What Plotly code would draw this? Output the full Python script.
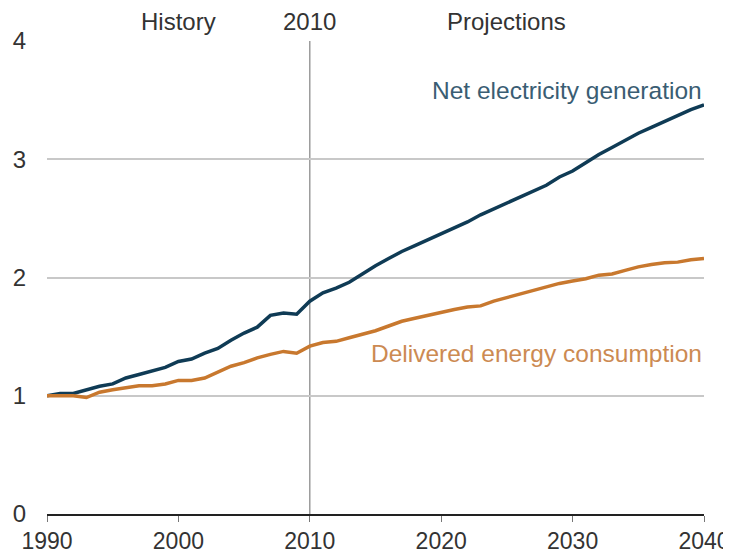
import plotly.graph_objects as go

######################### DATA #########################
years = list(range(1990, 2041))

net_generation = [
    1.00, 1.02, 1.02, 1.05, 1.08, 1.10, 1.15, 1.18, 1.21, 1.24,   # 1990-1999
    1.29, 1.31, 1.36, 1.40, 1.47, 1.53, 1.58, 1.68, 1.70, 1.69,   # 2000-2009
    1.80, 1.87, 1.91, 1.96, 2.03, 2.10, 2.16, 2.22, 2.27, 2.32,   # 2010-2019
    2.37, 2.42, 2.47, 2.53, 2.58, 2.63, 2.68, 2.73, 2.78, 2.85,   # 2020-2029
    2.90, 2.97, 3.04, 3.10, 3.16, 3.22, 3.27, 3.32, 3.37, 3.42,   # 2030-2039
    3.46,                                                         # 2040
]

delivered_energy = [
    1.00, 1.00, 1.00, 0.985, 1.03, 1.05, 1.07, 1.085, 1.085, 1.10,
    1.13, 1.13, 1.15, 1.20, 1.25, 1.28, 1.32, 1.35, 1.375, 1.36,
    1.42, 1.45, 1.46, 1.49, 1.52, 1.55, 1.59, 1.63, 1.655, 1.68,
    1.71, 1.73, 1.75, 1.76, 1.80, 1.83, 1.86, 1.89, 1.92, 1.95,
    1.97, 1.99, 2.02, 2.03, 2.06, 2.09, 2.11, 2.125, 2.13, 2.15,
    2.16,
]

split_year = 2010
x_ticks = [1990, 2000, 2010, 2020, 2030, 2040]
y_ticks = [0, 1, 2, 3, 4]

FONT = "Liberation Sans, Arial, sans-serif"
BLUE = "#0f3b55"
ORANGE = "#c8782e"

######################### FIGURE #########################
fig = go.Figure()
fig.add_trace(go.Scatter(x=years, y=net_generation, mode="lines",
                         line=dict(color=BLUE, width=3.5), name="Net electricity generation"))
fig.add_trace(go.Scatter(x=years, y=delivered_energy, mode="lines",
                         line=dict(color=ORANGE, width=3.5), name="Delivered energy consumption"))

# history / projections divider
fig.add_shape(type="line", x0=split_year, x1=split_year, y0=0, y1=4,
              xref="x", yref="y", line=dict(color="#8c8c8c", width=1.3), layer="below")

# page body adds an 8px margin, so the figure is 8px smaller each way to fit the window
fig.update_layout(
    width=723, height=546,
    margin=dict(l=39, r=27, t=33, b=40),
    paper_bgcolor="white", plot_bgcolor="white",
    showlegend=False,
    font=dict(family=FONT, size=24, color="#333333"),
    xaxis=dict(range=[1990, 2040], tickvals=x_ticks, showgrid=False, zeroline=False,
               automargin=False,
               showline=True, linecolor="#222222", linewidth=1.5,
               ticks="outside", ticklen=6, tickcolor="#777777", tickwidth=1.3,
               tickfont=dict(size=23, color="#333333")),
    yaxis=dict(range=[0, 4], tickvals=y_ticks, showgrid=True, gridcolor="#c8c8c8",
               gridwidth=1.5, zeroline=False, showline=False, ticks="",
               automargin=False,
               ticklabelstandoff=20, tickfont=dict(size=24, color="#333333")),
    annotations=[
        dict(text="History", x=2000, y=1, xref="x", yref="paper", yanchor="bottom",
             showarrow=False, yshift=4, font=dict(size=24, color="#333333")),
        dict(text="2010", x=split_year, y=1, xref="x", yref="paper", yanchor="bottom",
             showarrow=False, yshift=4, font=dict(size=24, color="#333333")),
        dict(text="Projections", x=2025, y=1, xref="x", yref="paper", yanchor="bottom",
             showarrow=False, yshift=4, font=dict(size=24, color="#333333")),
        dict(text="Net electricity generation", x=2040, y=3.58, xref="x", yref="y",
             xanchor="right", showarrow=False, font=dict(size=24.5, color="#3a5d73")),
        dict(text="Delivered energy consumption", x=2040, y=1.36, xref="x", yref="y",
             xanchor="right", showarrow=False, font=dict(size=24.5, color="#cc8a52")),
    ],
)

fig.write_html("out.html")
